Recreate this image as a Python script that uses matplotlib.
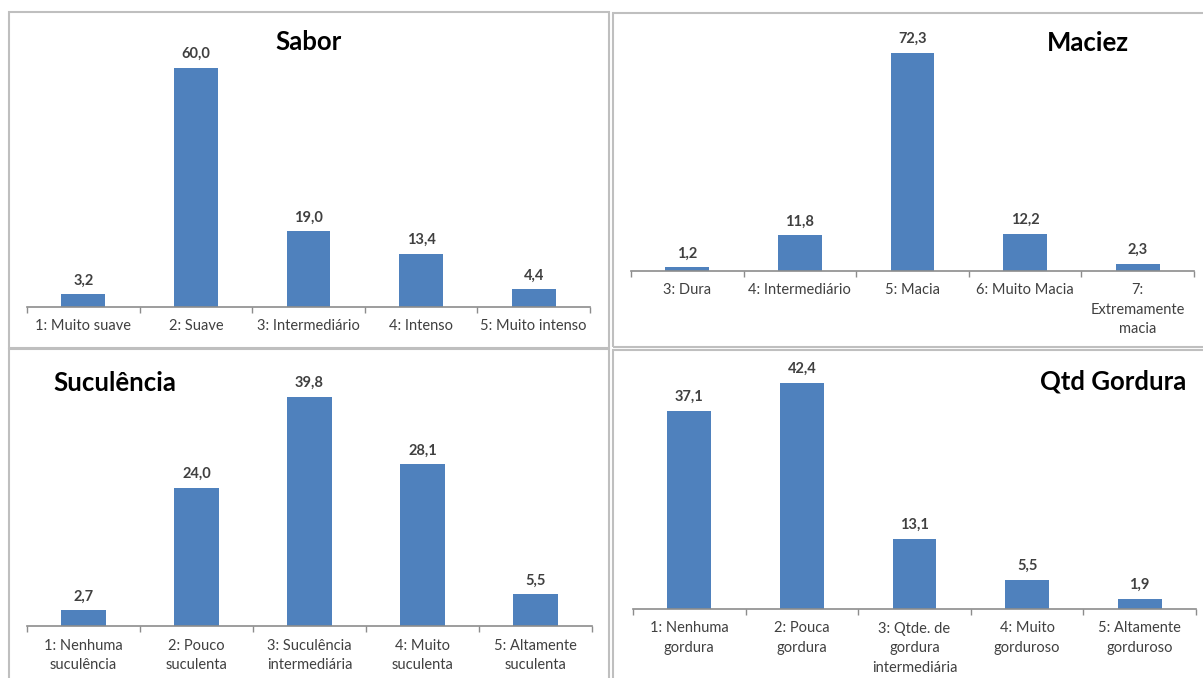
import matplotlib
matplotlib.use('Agg')
import matplotlib.pyplot as plt
from matplotlib.patches import Rectangle

plt.rcParams['font.family'] = ['Lato', 'DejaVu Sans']

# ---- data ----
sabor_cats = ['1: Muito suave', '2: Suave', '3: Intermediário', '4: Intenso', '5: Muito intenso']
sabor_vals = [3.2, 60.0, 19.0, 13.4, 4.4]

maciez_cats = ['3: Dura', '4: Intermediário', '5: Macia', '6: Muito Macia', '7:\nExtremamente\nmacia']
maciez_vals = [1.2, 11.8, 72.3, 12.2, 2.3]

suc_cats = ['1: Nenhuma\nsuculência', '2: Pouco\nsuculenta', '3: Suculência\nintermediária',
            '4: Muito\nsuculenta', '5: Altamente\nsuculenta']
suc_vals = [2.7, 24.0, 39.8, 28.1, 5.5]

gord_cats = ['1: Nenhuma\ngordura', '2: Pouca\ngordura', '3: Qtde. de\ngordura\nintermediária',
             '4: Muito\ngorduroso', '5: Altamente\ngorduroso']
gord_vals = [37.1, 42.4, 13.1, 5.5, 1.9]

W, H = 1203, 678
fig = plt.figure(figsize=(W / 100, H / 100), dpi=100)

BAR = '#4F81BD'
TXT = '#404040'
AXC = '#8C8C8C'


def px_rect(l, t, r, b):
    return [l / W, 1 - b / H, (r - l) / W, (b - t) / H]


# panel borders
for (l, t, r, b) in [(9, 12, 609, 348), (613, 13, 1210, 347), (9, 349, 609, 690), (613, 350, 1210, 690)]:
    fig.patches.append(Rectangle((l / W, 1 - b / H), (r - l) / W, (b - t) / H,
                                 transform=fig.transFigure, fill=False,
                                 edgecolor='#BFBFBF', linewidth=1.5, zorder=0))

panels = [
    (sabor_cats, sabor_vals, (27, 20, 590, 307), 72.1, 'Sabor', (309, 42), 'center'),
    (maciez_cats, maciez_vals, (631, 20, 1194, 271), 83.2, 'Maciez', (1088, 43), 'center'),
    (suc_cats, suc_vals, (27, 370, 592, 626), 44.5, 'Suculência', (53, 383), 'left'),
    (gord_cats, gord_vals, (633, 360, 1196, 609), 46.7, 'Qtd Gordura', (1186, 382), 'right'),
]

for cats, vals, (l, t, r, b), ymax, title, (tx, ty), tha in panels:
    ax = fig.add_axes(px_rect(l, t, r, b))
    ax.patch.set_alpha(0)
    x = list(range(len(cats)))
    ax.bar(x, vals, width=0.39, color=BAR, zorder=2)
    ax.set_xlim(-0.5, len(cats) - 0.5)
    ax.set_ylim(0, ymax)
    for s in ['top', 'right', 'left']:
        ax.spines[s].set_visible(False)
    ax.spines['bottom'].set_color(AXC)
    ax.spines['bottom'].set_linewidth(1.2)
    ax.set_yticks([])
    ax.set_xticks(x)
    ax.set_xticklabels(cats, fontsize=10.5, color=TXT, linespacing=1.5)
    ax.tick_params(axis='x', which='major', length=0, pad=9)
    ax.set_xticks([i - 0.5 for i in range(len(cats) + 1)], minor=True)
    ax.tick_params(axis='x', which='minor', length=4, color=AXC, width=1)
    for xi, v in zip(x, vals):
        ax.annotate(f'{v:.1f}'.replace('.', ','), (xi, v), xytext=(0, 5),
                    textcoords='offset points', ha='center', va='bottom',
                    fontsize=10.5, color=TXT, fontweight='bold')
    fig.text(tx / W, 1 - ty / H, title, ha=tha, va='center', fontsize=18.5,
             fontweight='bold', color='black')

fig.savefig('out.png', dpi=100)
